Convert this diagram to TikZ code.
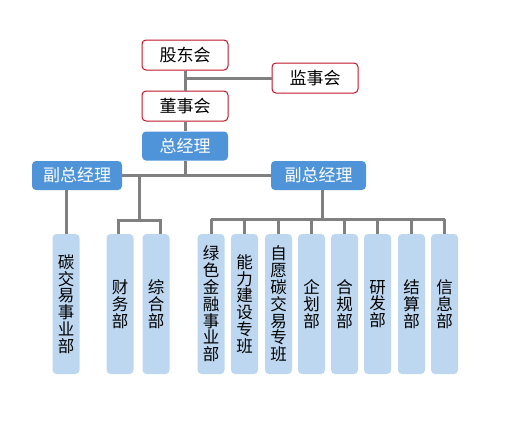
\documentclass[tikz,border=0pt]{standalone}
\usepackage{fontspec}
\setmainfont{Noto Sans CJK SC}
\definecolor{redb}{RGB}{190,20,40}
\definecolor{blueb}{RGB}{79,148,216}
\definecolor{lightb}{RGB}{189,215,240}
\definecolor{lineg}{RGB}{128,128,128}
\tikzset{
  redbox/.style={draw=redb, line width=1pt, rounded corners=4pt, fill=white, minimum width=86pt, minimum height=30pt, inner sep=0pt, font=\fontsize{17}{19}\selectfont},
  bluebox/.style={fill=blueb, rounded corners=4pt, minimum height=29pt, inner sep=0pt, text=white, font=\fontsize{17}{19}\selectfont},
  deptbox/.style={fill=lightb, rounded corners=4pt, minimum width=27pt, minimum height=140pt, inner sep=0pt, align=center, font=\fontsize{16.5}{16.8}\selectfont},
  conn/.style={draw=lineg, line width=3pt}
}
\begin{document}
\begin{tikzpicture}[x=1pt,y=-1pt]
\useasboundingbox (0,0) rectangle (511,421);
\node[redbox] (gd) at (185,55) {股东会};
\node[redbox] (js) at (315,78) {监事会};
\node[redbox] (ds) at (185,106) {董事会};
\node[bluebox, minimum width=86pt] (zjl) at (185,146) {总经理};
\node[bluebox, minimum width=90pt] (fl) at (77,175.5) {副总经理};
\node[bluebox, minimum width=95pt] (fr) at (318.5,175.5) {副总经理};

\node[deptbox] (b1) at (66,304) {碳\\交\\易\\事\\业\\部};
\node[deptbox] (b2) at (120,304) {财\\务\\部};
\node[deptbox] (b3) at (156,304) {综\\合\\部};
\node[deptbox] (b4) at (211,304) {绿\\色\\金\\融\\事\\业\\部};
\node[deptbox] (b5) at (244.5,304) {能\\力\\建\\设\\专\\班};
\node[deptbox] (b6) at (278.5,304) {自\\愿\\碳\\交\\易\\专\\班};
\node[deptbox] (b7) at (311.5,304) {企\\划\\部};
\node[deptbox] (b8) at (344.5,304) {合\\规\\部};
\node[deptbox] (b9) at (377.5,304) {研\\发\\部};
\node[deptbox] (b10) at (411.5,304) {结\\算\\部};
\node[deptbox] (b11) at (444.5,304) {信\\息\\部};

\coordinate (zjb) at (185,175.5);
\coordinate (mid) at (139,175.5);
\coordinate (midb) at (139,220);
\coordinate (rtop) at (322,190);
\coordinate (rbar) at (322,219);

\draw[conn] (gd.south) -- (ds.north);
\draw[conn] (gd.south |- js.west) -- (js.west);
\draw[conn] (ds.south) -- (zjl.north);
\draw[conn] (zjl.south) -- (zjb);
\draw[conn] (fl.east) -- (fr.west);
\draw[conn] (b1.north) -- (b1.north |- fl.south);
\draw[conn] (mid) -- (midb);
\draw[conn] ([xshift=-2pt]b2.north) -- ([xshift=-2pt]b2.north |- midb) -- ([xshift=4pt]b3.north |- midb) -- ([xshift=4pt]b3.north);
\draw[conn] (rtop) -- (rbar);
\draw[conn] (b4.north |- rbar) -- (b11.north |- rbar);
\foreach \b in {b4,b5,b6,b7,b8,b9,b10,b11}{
  \draw[conn] (\b.north |- rbar) -- (\b.north);
}
\end{tikzpicture}
\end{document}
